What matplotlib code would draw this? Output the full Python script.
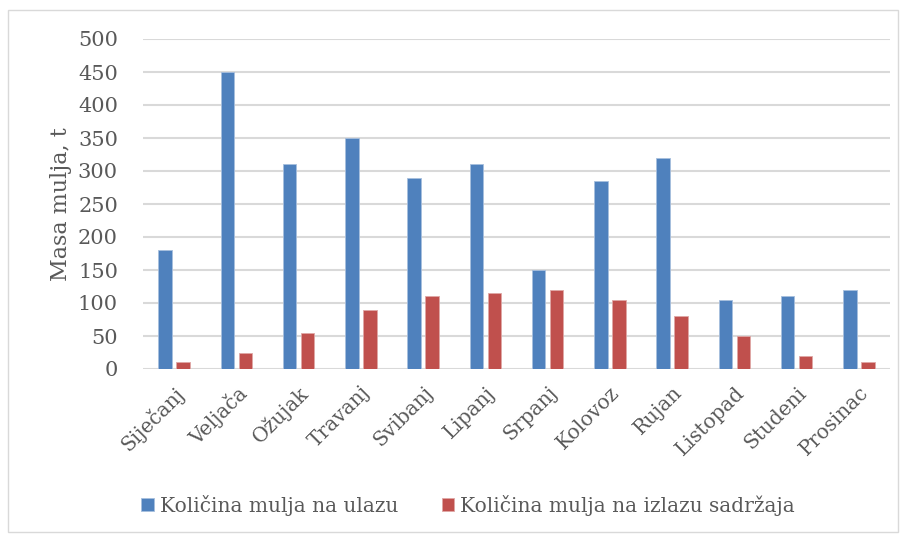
import matplotlib
matplotlib.use("Agg")
import matplotlib.pyplot as plt
import numpy as np
from matplotlib.patches import Rectangle

months = ["Siječanj", "Veljača", "Ožujak", "Travanj", "Svibanj", "Lipanj",
          "Srpanj", "Kolovoz", "Rujan", "Listopad", "Studeni", "Prosinac"]
ulaz = [180, 450, 310, 350, 290, 310, 150, 285, 320, 105, 110, 120]
izlaz = [10, 25, 55, 90, 110, 115, 120, 105, 80, 50, 20, 10]
series_names = ["Količina mulja na ulazu", "Količina mulja na izlazu sadržaja"]
yticks = list(range(0, 501, 50))

plt.rcParams['font.family'] = ['DejaVu Serif']
txt = '#595959'
blue = '#4F81BD'
red = '#C0504D'

fig = plt.figure(figsize=(9.04, 5.37), dpi=100)
fig.patches.append(Rectangle((8/904, 1-532/537), 890/904, 522/537, transform=fig.transFigure,
                             fill=False, edgecolor='#D9D9D9', linewidth=1))
ax = fig.add_axes([143/904, 1-369/537, 747/904, 330/537])
x = np.arange(len(months))
w = 0.22
ax.bar(x - 0.145, ulaz, w, color=blue, edgecolor='#A7BFDE', linewidth=0.6, zorder=3, label=series_names[0])
ax.bar(x + 0.145, izlaz, w, color=red, edgecolor='#DFA7A6', linewidth=0.6, zorder=3, label=series_names[1])
ax.set_xlim(-0.5, len(months) - 0.5)
ax.set_ylim(0, 500)
ax.set_yticks(yticks)
ax.yaxis.grid(True, color='#D9D9D9', linewidth=1.5, zorder=0)
ax.set_axisbelow(True)
for s in ax.spines.values():
    s.set_visible(False)
ax.tick_params(axis='both', length=0, colors=txt, labelsize=15)
ax.tick_params(axis='x', labelsize=14.5)
ax.tick_params(axis='y', pad=18)
ax.set_xticks(x)
ax.set_xticklabels(months, rotation=45, ha='right', va='top', rotation_mode='anchor')
ax.tick_params(axis='x', pad=10)
ax.set_ylabel("Masa mulja, t", fontsize=16, color=txt, labelpad=4)
leg = fig.legend(loc='center', bbox_to_anchor=(0.518, 1-505/537), ncol=2, frameon=False,
                 fontsize=14.5, labelcolor=txt, handlelength=0.6, handleheight=0.6,
                 handletextpad=0.3, columnspacing=2.2)
fig.savefig("out.png", dpi=100)
